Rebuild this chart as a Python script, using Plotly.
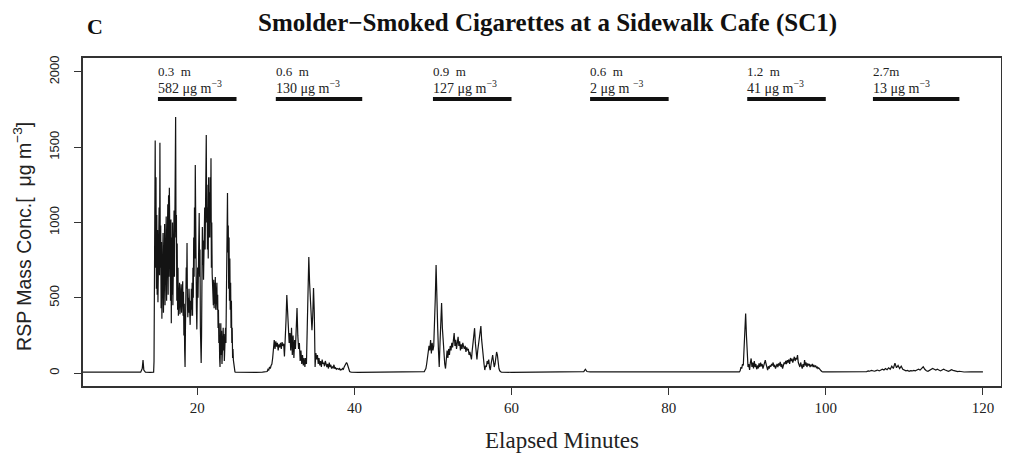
import plotly.graph_objects as go

# ---------------- data ----------------
# sparse baseline pieces: explicit (time, value)
base0_t = [5.0, 6.0, 7.0, 8.0, 9.0, 10.0, 11.0, 12.0, 12.8, 13.0, 13.1, 13.2, 13.4, 14.0, 14.4]
base0_v = [6, 6, 5, 6, 6, 5, 6, 6, 6, 30, 86, 20, 6, 5, 6]

# burst 1 (0.3 m), sampled every 0.05 min from 14.45
b1_start, b1_step = 14.45, 0.05
b1_v = [6, 80, 500, 1000, 1545, 700, 1300, 560, 1050, 520,
        950, 470, 880, 600, 1100, 650, 1530, 700, 980, 430,
        870, 360, 760, 480, 930, 400, 820, 520, 990, 450,
        920, 560, 1040, 480, 980, 600, 1120, 520, 1180, 640,
        1230, 560, 1100, 480, 1020, 330, 900, 520, 1000, 450,
        960, 560, 1080, 640, 1200, 760, 1700, 900, 1050, 480,
        860, 420, 700, 380, 560, 470, 600, 390, 550, 440,
        590, 400, 520, 430, 610, 380, 540, 250, 460, 150,
        40, 300, 560, 700, 560, 863, 480, 370, 500, 400,
        560, 420, 520, 320, 480, 380, 560, 420, 600, 380,
        700, 500, 900, 640, 1100, 760, 1381, 700, 900, 420,
        290, 520, 700, 500, 850, 600, 1062, 640, 820, 300,
        200, 66, 250, 500, 970, 720, 880, 620, 1000, 780,
        1100, 820, 1200, 900, 1580, 1000, 1250, 820, 1100, 760,
        1300, 900, 1200, 900, 1300, 1000, 1427, 700, 1000, 660,
        540, 640, 450, 620, 430, 600, 460, 637, 420, 580,
        440, 600, 418, 520, 300, 420, 200, 330, 100, 40,
        180, 330, 120, 280, 60, 250, 90, 300, 150, 260,
        80, 220, 120, 300, 200, 400, 700, 900, 1195, 800,
        980, 560, 900, 480, 760, 420, 600, 300, 480, 200,
        300, 100, 160, 86, 60, 30, 12, 8, 6]

base1_t = [25.5, 26.5, 27.5, 28.3]
base1_v = [5, 6, 5, 6]

# burst 2 (0.6 m), every 0.1 min from 28.8
b2_start, b2_step = 28.8, 0.1
b2_v = [6, 10, 25, 20, 40, 30, 50, 60, 100, 180,
        219, 160, 210, 175, 200, 150, 190, 170, 200, 160,
        205, 180, 195, 110, 200, 350, 518, 320, 305, 200,
        265, 150, 300, 120, 250, 100, 220, 160, 300, 431,
        250, 160, 200, 80, 150, 60, 120, 50, 100, 40,
        100, 60, 300, 600, 770, 600, 505, 400, 285, 380,
        564, 400, 40, 133, 90, 120, 60, 100, 50, 80,
        40, 90, 60, 70, 45, 80, 50, 40, 60, 30,
        70, 40, 55, 30, 40, 35, 55, 30, 35, 25,
        30, 28, 25, 30, 20, 25, 22, 30, 25, 40,
        55, 65, 70, 60, 40, 20, 10, 7, 6]

base2_t = [40.5, 42.0, 43.5, 45.0, 46.5, 48.0]
base2_v = [5, 6, 5, 6, 5, 6]

# burst 3 (0.9 m), every 0.1 min from 48.8
b3_start, b3_step = 48.8, 0.1
b3_v = [6, 10, 20, 30, 60, 90, 140, 180, 150, 219,
        130, 200, 150, 180, 300, 500, 717, 400, 305, 150,
        40, 200, 300, 465, 300, 200, 120, 60, 30, 120,
        150, 100, 160, 120, 180, 150, 200, 170, 230, 265,
        180, 220, 160, 200, 240, 180, 210, 150, 190, 160,
        200, 175, 160, 180, 140, 170, 150, 160, 120, 140,
        110, 90, 150, 200, 250, 298, 200, 120, 90, 150,
        200, 250, 280, 312, 220, 150, 100, 60, 20, 50,
        40, 80, 60, 90, 40, 20, 60, 80, 119, 80,
        40, 60, 100, 140, 120, 60, 30, 15, 8, 6]

base3_t = [60.0, 62.0, 64.0, 66.0, 68.0, 69.2, 69.4, 69.6, 70.0, 72.0, 75.0, 78.0, 80.0, 82.0, 84.0, 86.0, 88.0]
base3_v = [5, 6, 5, 6, 6, 10, 25, 10, 8, 8, 7, 8, 8, 7, 8, 8, 8]

# burst 4 (1.2 m), every 0.1 min from 89.0
b4_start, b4_step = 89.0, 0.1
b4_v = [8, 15, 40, 30, 60, 50, 150, 300, 396, 250,
        86, 40, 60, 20, 70, 97, 40, 70, 30, 80,
        40, 60, 25, 50, 30, 64, 40, 70, 45, 60,
        30, 50, 70, 86, 60, 40, 20, 45, 30, 50,
        42, 60, 50, 70, 40, 55, 30, 45, 60, 40,
        64, 50, 75, 40, 60, 30, 50, 70, 60, 80,
        60, 86, 70, 90, 60, 100, 80, 95, 70, 100,
        108, 80, 100, 90, 119, 70, 60, 40, 70, 50,
        30, 60, 40, 86, 50, 70, 40, 64, 50, 60,
        40, 55, 45, 60, 40, 50, 42, 50, 35, 40,
        30, 35, 25, 20, 15, 10, 8]

base4_t = [100.5, 102.0, 103.5, 104.5]
base4_v = [8, 8, 8, 8]

# burst 5 (2.7 m), every 0.2 min from 105.0
b5_start, b5_step = 105.0, 0.2
b5_v = [8, 10, 14, 12, 18, 14, 12, 16, 20, 14,
        18, 25, 20, 30, 22, 35, 25, 45, 30, 66,
        35, 50, 30, 45, 25, 20, 15, 18, 12, 16,
        14, 18, 15, 20, 25, 20, 30, 42, 25, 15,
        12, 18, 22, 30, 25, 20, 25, 18, 14, 20,
        25, 20, 15, 12, 16, 22, 18, 14, 12, 10,
        12, 10, 8, 7]

base5_t = [118.5, 119.3, 120.0]
base5_v = [8, 8, 8]

# measurement period bars and labels
bar_start = [15, 30, 50, 70, 90, 106]
bar_end = [25, 41, 60, 80, 100, 117]
dist_labels = ["0.3  m", "0.6  m", "0.9  m", "0.6  m", "1.2  m", "2.7m"]
conc_labels = ["582 μg m<sup>−3</sup>", "130 μg m<sup>−3</sup>", "127 μg m<sup>−3</sup>",
               "2 μg m <sup>−3</sup>", "41 μg m<sup>−3</sup>", "13 μg m<sup>−3</sup>"]
bar_level = 1819
label1_level = 2000
label2_level = 1897

x_ticks = [20, 40, 60, 80, 100, 120]
y_ticks = [0, 500, 1000, 1500, 2000]

# ---------------- assemble series ----------------
def grid(start, step, vals):
    return [round(start + step * i, 3) for i in range(len(vals))]

times = []
conc = []
pieces = [
    (base0_t, base0_v),
    (grid(b1_start, b1_step, b1_v), b1_v),
    (base1_t, base1_v),
    (grid(b2_start, b2_step, b2_v), b2_v),
    (base2_t, base2_v),
    (grid(b3_start, b3_step, b3_v), b3_v),
    (base3_t, base3_v),
    (grid(b4_start, b4_step, b4_v), b4_v),
    (base4_t, base4_v),
    (grid(b5_start, b5_step, b5_v), b5_v),
    (base5_t, base5_v),
]
for t, v in pieces:
    times += t
    conc += v

SERIF = "Liberation Serif"
SANS = "Liberation Sans"

fig = go.Figure()
fig.add_trace(go.Scatter(x=times, y=conc, mode="lines",
                         line=dict(color="#141414", width=1.2),
                         hoverinfo="skip", showlegend=False))

for s, e in zip(bar_start, bar_end):
    fig.add_trace(go.Scatter(x=[s, e], y=[bar_level, bar_level], mode="lines",
                             line=dict(color="#111111", width=4),
                             hoverinfo="skip", showlegend=False))

annotations = []
for s, d, c in zip(bar_start, dist_labels, conc_labels):
    annotations.append(dict(x=s, y=label1_level, xref="x", yref="y", text=d,
                            showarrow=False, xanchor="left", yanchor="middle",
                            xshift=-2,
                            font=dict(family=SERIF, size=13, color="#222")))
    annotations.append(dict(x=s, y=label2_level, xref="x", yref="y", text=c,
                            showarrow=False, xanchor="left", yanchor="middle",
                            xshift=-2,
                            font=dict(family=SERIF, size=14, color="#222")))

annotations += [
    dict(text="<b>Smolder−Smoked Cigarettes at a Sidewalk Cafe (SC1)</b>",
         x=0.5065, y=1.108, xref="paper", yref="paper", showarrow=False,
         xanchor="center", yanchor="middle",
         font=dict(family=SERIF, size=25, color="#111")),
    dict(text="<b>C</b>", x=0.013, y=1.095, xref="paper", yref="paper",
         showarrow=False, xanchor="center", yanchor="middle",
         font=dict(family=SERIF, size=22, color="#111")),
    dict(text="Elapsed Minutes", x=0.522, y=-0.165, xref="paper", yref="paper",
         showarrow=False, xanchor="center", yanchor="middle",
         font=dict(family=SERIF, size=23, color="#222")),
    dict(text="RSP Mass Conc.[  μg m<sup>−3</sup>]", x=-0.0663, y=0.455,
         xref="paper", yref="paper", showarrow=False, textangle=-90,
         xanchor="center", yanchor="middle",
         font=dict(family=SANS, size=19.5, color="#222")),
]

# the page adds an 8px body margin; compensate so the plot box sits where the reference's does
fig.update_layout(
    width=1002, height=451,
    margin=dict(l=75, r=7, t=50, b=73),
    paper_bgcolor="white", plot_bgcolor="white",
    annotations=annotations,
    xaxis=dict(range=[5.46, 122.3], tickvals=x_ticks, ticks="outside", ticklen=7,
               tickcolor="#333", showgrid=False, zeroline=False,
               showline=True, mirror=True, linecolor="#333", linewidth=1.6,
               tickfont=dict(family=SERIF, size=15, color="#222")),
    yaxis=dict(range=[-86, 2092], tickvals=y_ticks, ticks="outside", ticklen=7,
               tickcolor="#333", showgrid=False, zeroline=False,
               showline=True, mirror=True, linecolor="#333", linewidth=1.6,
               tickangle=-90, ticklabelstandoff=10,
               tickfont=dict(family=SANS, size=13, color="#222")),
)

fig.write_html("out.html")
